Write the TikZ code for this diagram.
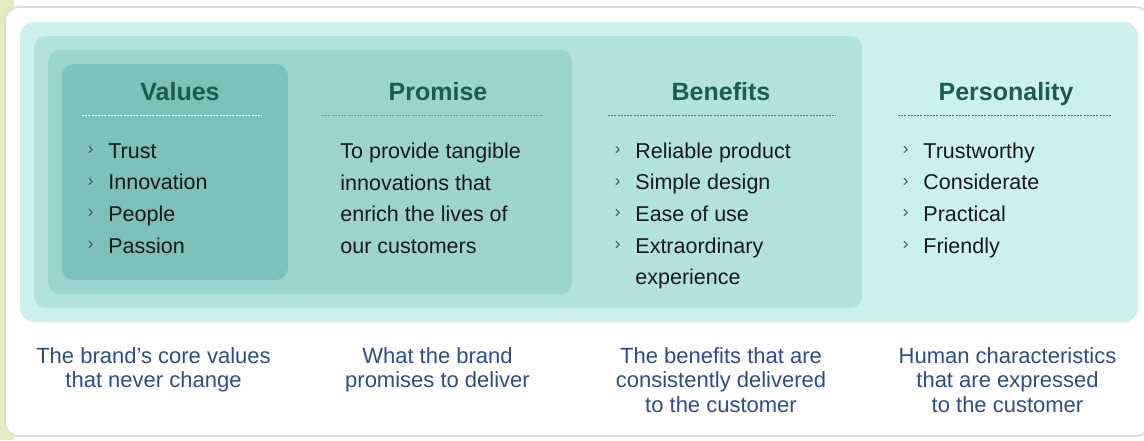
\documentclass[tikz,border=0pt]{standalone}
\usepackage{fontspec}
\setmainfont{Liberation Sans}
\usetikzlibrary{positioning}

\definecolor{stripGreen}{HTML}{E4EDBE}
\definecolor{shellTeal}{HTML}{CCF0EE}
\definecolor{benefitTeal}{HTML}{B2E2DF}
\definecolor{promiseTeal}{HTML}{9BD4CF}
\definecolor{valueTeal}{HTML}{7CC0BA}
\definecolor{headGreen}{HTML}{1B5C4C}
\definecolor{noteBlue}{HTML}{2E4B8F}

\begin{document}
\begin{tikzpicture}[%
        x = 0.5pt,
        y = -0.5pt,
        head/.style = {font=\fontsize{12.5}{15}\selectfont\bfseries,
            text=headGreen, inner sep=0pt, anchor=base},
        item/.style = {font=\fontsize{10.75}{15.8}\selectfont,
            text=black!90, inner sep=0pt, anchor=base west},
        tick/.style = {font=\fontsize{8.5}{8.5}\selectfont, text=black!70,
            inner sep=0pt, yshift=3.6pt},
        note/.style = {font=\fontsize{11}{12.25}\selectfont, text=noteBlue,
            align=center, inner sep=0pt, anchor=north},
        rule/.style = {dash pattern=on 1pt off 0.6pt, line width=0.5pt}
    ]

        \useasboundingbox (0, 0) rectangle (1144, 440);

        % Page edge and the white card.
        \fill[stripGreen] (0, 0) rectangle (14, 440);
        \filldraw[fill=white, draw=black!14, line width=0.8pt,
            rounded corners=7pt] (5, 7) rectangle (1150, 436);

        % Nested panels, from the outside in.
        \fill[shellTeal, rounded corners=7pt] (20, 22) rectangle (1138, 322);
        \fill[benefitTeal, rounded corners=6pt] (34, 36) rectangle (862, 308);
        \fill[promiseTeal, rounded corners=6pt] (48, 50) rectangle (572, 294);
        \fill[valueTeal, rounded corners=6pt] (62, 64) rectangle (288, 280);

        % Headings and their dashed rules.
        \node[head] (values) at (180, 100) {Values};
        \node[head] (promise) at (438, 100) {Promise};
        \node[head] (benefits) at (721, 100) {Benefits};
        \node[head] (personality) at (1006, 100) {Personality};
        \draw[rule, white] (82, 115) to (262, 115);
        \draw[rule, black!45] (322, 115) to (542, 115);
        \draw[rule, black!55] (608, 115) to (836, 115);
        \draw[rule, black!60] (898, 115) to (1112, 115);

        % Values.
        \node[item] (v1) at (108, 158) {Trust};
        \node[item] (v2) at (108, 189.5) {Innovation};
        \node[item] (v3) at (108, 221) {People};
        \node[item] (v4) at (108, 253) {Passion};
        \node[tick, left=7pt of v1.base west] {›};
        \node[tick, left=7pt of v2.base west] {›};
        \node[tick, left=7pt of v3.base west] {›};
        \node[tick, left=7pt of v4.base west] {›};

        % Promise.
        \node[item, align=left, anchor=north west] (p1) at (340, 142.5)
            {To provide tangible\\innovations that\\enrich the lives of\\our customers};

        % Benefits.
        \node[item] (b1) at (635, 158) {Reliable product};
        \node[item] (b2) at (635, 189.5) {Simple design};
        \node[item] (b3) at (635, 221) {Ease of use};
        \node[item] (b4) at (635, 253) {Extraordinary};
        \node[item] (b5) at (635, 284.5) {experience};
        \node[tick, left=7pt of b1.base west] {›};
        \node[tick, left=7pt of b2.base west] {›};
        \node[tick, left=7pt of b3.base west] {›};
        \node[tick, left=7pt of b4.base west] {›};

        % Personality.
        \node[item] (c1) at (923, 158) {Trustworthy};
        \node[item] (c2) at (923, 189.5) {Considerate};
        \node[item] (c3) at (923, 221) {Practical};
        \node[item] (c4) at (923, 253) {Friendly};
        \node[tick, left=7pt of c1.base west] {›};
        \node[tick, left=7pt of c2.base west] {›};
        \node[tick, left=7pt of c3.base west] {›};
        \node[tick, left=7pt of c4.base west] {›};

        % Captions under the panels.
        \node[note] (valuesNote) at (153.5, 347)
            {The brand's core values\\that never change};
        \node[note] (promiseNote) at (437.5, 347)
            {What the brand\\promises to deliver};
        \node[note] (benefitsNote) at (721, 347)
            {The benefits that are\\consistently delivered\\to the customer};
        \node[note] (personalityNote) at (1007.5, 347)
            {Human characteristics\\that are expressed\\to the customer};
    \end{tikzpicture}
\end{document}
